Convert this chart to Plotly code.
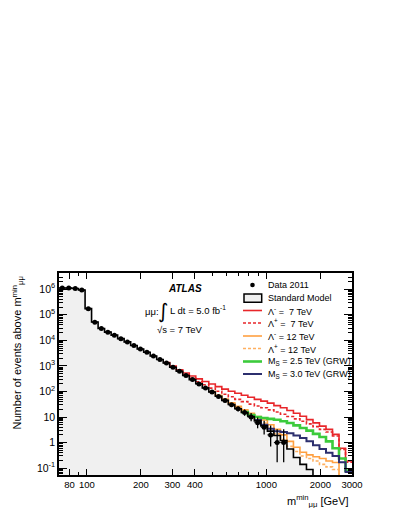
import numpy as np
import plotly.graph_objects as go

# ---------------- data ----------------
edges = [70, 76.1, 82.7, 89.9, 97.8, 106.3, 115.6, 125.6, 136.6, 148.5, 161.4, 175.5,
         190.8, 207.4, 225.4, 245.1, 266.4, 289.6, 314.9, 342.3, 372.1, 404.5, 439.7,
         478.0, 519.7, 564.9, 614.1, 667.6, 725.8, 789.0, 857.7, 932.4, 1013.6, 1101.9,
         1197.9, 1302.2, 1415.6, 1538.9, 1673.0, 1818.7, 1977.1, 2149.3, 2336.5, 2540.0,
         2761.2, 3000]

sm = [1.12e6, 1.12e6, 1.07e6, 9.3e5, 1.74e5, 5.2e4, 2.9e4, 2.1e4, 1.6e4, 1.17e4, 8.7e3,
      6.3e3, 4.6e3, 3.4e3, 2.45e3, 1.78e3, 1.29e3, 890, 620, 420, 290, 200, 138, 95, 65,
      45, 31, 21, 15, 10.5, 7.1, 4.5, 2.8, 1.9, 1.2, 0.56, 0.26, 0.14, 0.089, 0.032,
      0.015, 0.008, 0.004, 0.002, 0.001]

data_counts = [1115000, 1108000, 1066000, 925000, 172000, 51500, 29200, 20900, 15800,
               11600, 8650, 6280, 4570, 3410, 2440, 1770, 1295, 885, 615, 418, 292, 197,
               136, 96, 63, 44, 30, 21, 15, 10, 6, 4, 2, 1, 1]

lam_minus_7 = [None] * 16 + [1350, 980, 710, 525, 400, 310, 245, 195, 155, 123, 102, 85,
                             71, 59, 49, 42, 35, 28, 23, 18, 14, 10.7, 7.9, 5.9, 4.4,
                             3.3, 2.1, 0.6, 0.19]
lam_plus_7 = [None] * 19 + [445, 325, 240, 182, 135, 102, 78, 62, 49, 40, 32, 27, 23, 19,
                            15.8, 12.9, 10.5, 8.5, 6.8, 5.4, 4.2, 3.3, 2.6, 1.8, 0.54,
                            0.17]
lam_minus_12 = [None] * 23 + [100, 71, 50, 36, 26, 19, 14, 10.5, 7.6, 5.0, 3.3, 2.0, 1.12,
                              0.66, 0.42, 0.33, 0.28, 0.24, 0.19, 0.166, 0.001, 0.001]
lam_plus_12 = [None] * 25 + [47, 33, 23, 16.6, 12, 8.5, 5.8, 3.6, 2.2, 1.32, 0.71, 0.45,
                             0.30, 0.24, 0.19, 0.14, 0.112, 0.089, 0.001, 0.001]
ms_25 = [None] * 28 + [15.5, 12, 10, 9.1, 8.5, 7.8, 6.8, 5.8, 4.7, 3.7, 2.95, 2.2, 1.66,
                       1.12, 0.6, 0.24, 0.08]
ms_30 = [None] * 30 + [7.6, 5.0, 3.5, 2.8, 2.6, 2.3, 1.9, 1.5, 1.12, 0.79, 0.56, 0.4, 0.3,
                       0.17, 0.07]

# Poisson (Garwood) intervals for the small counts
small_err = {1: (2.30, 0.83), 2: (2.64, 1.29), 4: (3.16, 1.91), 6: (3.58, 2.38),
             10: (4.27, 3.11), 15: (4.96, 3.83)}

y_tickvals = [0.1, 1, 10, 100, 1e3, 1e4, 1e5, 1e6]
y_ticktext = ["10<sup>-1</sup>", "1", "10", "10<sup>2</sup>", "10<sup>3</sup>",
              "10<sup>4</sup>", "10<sup>5</sup>", "10<sup>6</sup>"]
x_tickvals = [80, 100, 200, 300, 400, 1000, 2000, 3000]
x_ticktext = ["80", "100", "200", "300", "400", "1000", "2000", "3000"]

# ---------------- figure ----------------
FONT = "Liberation Sans, Arial, sans-serif"
L, R, T, B = 59, 352, 273, 475  # plot-area box in page pixels
OFF = 8                          # default page (body) margin
W, H = 383, 500


def px(xp):
    return (xp - L) / (R - L)


def py(yp):
    return (B - yp) / (B - T)


def step(vals):
    return list(edges), list(vals) + [vals[-1]]


fig = go.Figure()

# SM filled area (base + fill)
fig.add_trace(go.Scatter(x=[edges[0], edges[-1]], y=[1e-3, 1e-3], mode="lines",
                         line=dict(width=0), showlegend=False, hoverinfo="skip"))
sx, sy = step(sm)
fig.add_trace(go.Scatter(x=sx, y=sy, mode="lines", line_shape="hv",
                         line=dict(width=0, color="black"), fill="tonexty",
                         fillcolor="#f0f0f0", showlegend=False))

DASH = "3px,2px"
signals = [
    (lam_minus_7, "#e8262a", "solid", 1.6),
    (lam_plus_7, "#e8262a", DASH, 1.6),
    (lam_minus_12, "#ffa040", "solid", 1.6),
    (lam_plus_12, "#ffb060", DASH, 1.6),
    (ms_25, "#3ccb3c", "solid", 2.6),
    (ms_30, "#2c2f6e", "solid", 2.0),
]
for vals, col, dash, w in signals:
    x, y = step(vals)
    fig.add_trace(go.Scatter(x=x, y=y, mode="lines", line_shape="hv",
                             line=dict(color=col, dash=dash, width=w),
                             connectgaps=False, showlegend=False))

# SM outline on top
fig.add_trace(go.Scatter(x=sx, y=sy, mode="lines", line_shape="hv",
                         line=dict(width=1.6, color="black"), showlegend=False))

# data points
e = np.array(edges, dtype=float)
centers = np.sqrt(e[:-1] * e[1:])[:len(data_counts)]
xm = centers - e[:len(data_counts)]
xp = e[1:len(data_counts) + 1] - centers
eu, ed = [], []
for n in data_counts:
    if n in small_err:
        eu.append(small_err[n][0]); ed.append(small_err[n][1])
    else:
        eu.append(np.sqrt(n)); ed.append(np.sqrt(n))
fig.add_trace(go.Scatter(
    x=centers, y=data_counts, mode="markers",
    marker=dict(color="black", size=5),
    error_y=dict(type="data", symmetric=False, array=eu, arrayminus=ed,
                 color="black", thickness=1.3, width=0),
    error_x=dict(type="data", symmetric=False, array=xp, arrayminus=xm,
                 color="black", thickness=1.0, width=0),
    showlegend=False))

# ---------------- legend (drawn manually) ----------------
shapes = []
annotations = []
rows = [285, 298, 310.5, 323, 336, 348.5, 361.5, 374]
labels = ["Data 2011", "Standard Model",
          "Λ<sup>-</sup> =\u00a0\u00a07 TeV", "Λ<sup>+</sup> =\u00a0\u00a07 TeV",
          "Λ<sup>-</sup> = 12 TeV", "Λ<sup>+</sup> = 12 TeV",
          "M<sub>S</sub> = 2.5 TeV (GRW)", "M<sub>S</sub> = 3.0 TeV (GRW)"]
for r, lab in zip(rows, labels):
    annotations.append(dict(x=px(266), y=py(r), xref="paper", yref="paper",
                            text=lab, showarrow=False, xanchor="left", yanchor="middle",
                            font=dict(family=FONT, size=9, color="black")))
# data marker
shapes.append(dict(type="circle", xref="paper", yref="paper",
                   x0=px(250.2), x1=px(254.8), y0=py(287.3), y1=py(282.7),
                   fillcolor="black", line=dict(color="black", width=0)))
# SM box
shapes.append(dict(type="rect", xref="paper", yref="paper",
                   x0=px(244), x1=px(261.7), y0=py(302.3), y1=py(294),
                   fillcolor="#f0f0f0", line=dict(color="black", width=1.5)))
for r, (vals, col, dash, w) in zip(rows[2:], signals):
    shapes.append(dict(type="line", xref="paper", yref="paper",
                       x0=px(243), x1=px(262), y0=py(r), y1=py(r),
                       line=dict(color=col, dash=dash, width=w)))

# ---------------- texts ----------------
annotations += [
    dict(x=px(185), y=py(288), text="<b><i>ATLAS</i></b>", xanchor="center",
         yanchor="middle", font=dict(family=FONT, size=10)),
    dict(x=px(143), y=py(311), text="μμ:", xanchor="left", yanchor="middle",
         font=dict(family=FONT, size=9.5)),
    dict(x=px(163), y=py(311), text="∫", xanchor="center", yanchor="middle",
         font=dict(family="DejaVu Sans", size=20)),
    dict(x=px(168), y=py(310), text="L dt = 5.0 fb<sup>-1</sup>", xanchor="left",
         yanchor="middle", font=dict(family=FONT, size=9.5)),
    dict(x=px(180), y=py(329), text="√s = 7 TeV", xanchor="center", yanchor="middle",
         font=dict(family=FONT, size=9.5)),
    dict(x=px(17), y=py(275), text="Number of events above m<sup>min</sup><sub>μμ</sub>",
         textangle=-90, xanchor="center", yanchor="top",
         font=dict(family=FONT, size=11)),
    dict(x=px(351), y=py(501), text="m<sup>min</sup><sub>μμ</sub> [GeV]",
         xanchor="right", yanchor="middle", font=dict(family=FONT, size=11)),
]
for a in annotations:
    a.setdefault("xref", "paper")
    a.setdefault("yref", "paper")
    a.setdefault("showarrow", False)
    a.setdefault("font", {})
    a["font"].setdefault("color", "black")

y_minor = [m * 10.0 ** k for k in range(-2, 7) for m in range(2, 10)]
x_minor = [70, 90, 500, 600, 700, 800, 900]

fig.update_layout(
    width=W, height=H,
    margin=dict(l=L - OFF, r=W - (R - OFF), t=T - OFF, b=H - (B - OFF), pad=0),
    paper_bgcolor="white", plot_bgcolor="white",
    showlegend=False,
    shapes=shapes, annotations=annotations,
    font=dict(family=FONT, color="black"),
    xaxis=dict(type="log", range=[np.log10(70), np.log10(3000)],
               tickmode="array", tickvals=x_tickvals, ticktext=x_ticktext,
               ticks="inside", ticklen=6, tickwidth=1, tickcolor="black",
               showline=True, linecolor="black", linewidth=1.5, mirror="allticks",
               showgrid=False, zeroline=False,
               tickfont=dict(family=FONT, size=9.5, color="black"),
               minor=dict(tickmode="array", tickvals=x_minor, ticks="inside",
                          ticklen=3, tickcolor="black", showgrid=False)),
    yaxis=dict(type="log", range=[np.log10(0.054), np.log10(4.3e6)],
               tickmode="array", tickvals=y_tickvals, ticktext=y_ticktext,
               ticks="inside", ticklen=8, tickwidth=1, tickcolor="black",
               showline=True, linecolor="black", linewidth=1.5, mirror="allticks",
               showgrid=False, zeroline=False,
               tickfont=dict(family=FONT, size=10.5, color="black"),
               minor=dict(tickmode="array", tickvals=y_minor, ticks="inside",
                          ticklen=4, tickcolor="black", showgrid=False)),
)

fig.write_html("out.html")
